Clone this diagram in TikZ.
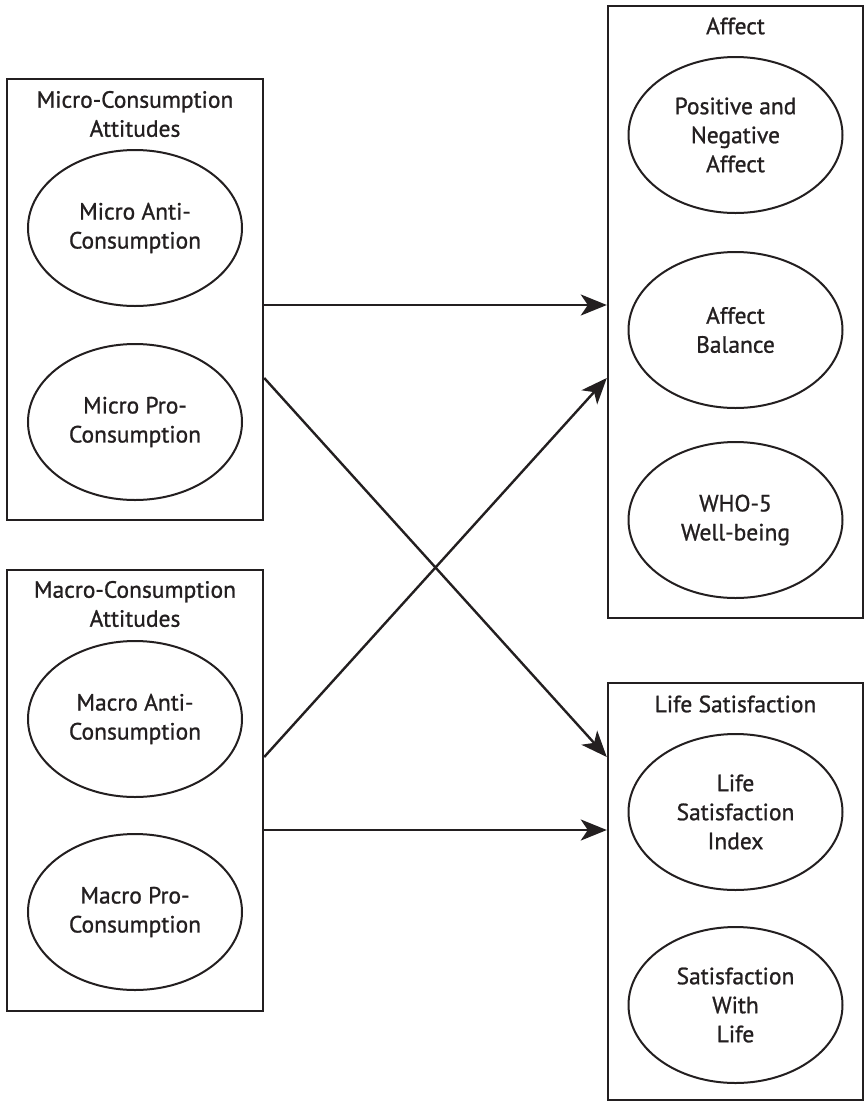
\documentclass[tikz,border=0pt]{standalone}
\usepackage{fontspec}
\setmainfont{PT Sans}[FakeBold=1]
\usetikzlibrary{shapes.geometric,arrows.meta}
\definecolor{ink}{HTML}{231F20}
\begin{document}
\begin{tikzpicture}[x=1pt,y=-1pt,
  every node/.style={text=ink,font=\fontsize{23.5}{29}\selectfont,align=center},
  group/.style={draw=ink,line width=2.4pt,rectangle,minimum width=256pt,inner sep=0pt},
  construct/.style={draw=ink,line width=2pt,ellipse,minimum width=214pt,minimum height=156pt,inner sep=0pt},
  title/.style={inner sep=0pt},
  arr/.style={draw=ink,line width=2.4pt,-{Stealth[length=26pt,width=21pt,inset=7pt]}}]
\useasboundingbox (0,0) rectangle (865,1104);
% group boxes
\node[group,minimum height=441pt] (micro) at (135,299.5) {};
\node[group,minimum height=441pt] (macro) at (135,790.5) {};
\node[group,minimum width=255pt,minimum height=612pt] (affect) at (735.5,312) {};
\node[group,minimum width=255pt,minimum height=417pt] (ls) at (735.5,891.5) {};
% titles
\node[title] (microt) at (135,114) {Micro-Consumption\\Attitudes};
\node[title] (macrot) at (135,604) {Macro-Consumption\\Attitudes};
\node[title] (affectt) at (735.5,26) {Affect};
\node[title] (lst) at (735.5,704) {Life Satisfaction};
% constructs
\node[construct] (mA) at (135,228) {Micro Anti-\\Consumption};
\node[construct] (mP) at (135,422) {Micro Pro-\\Consumption};
\node[construct] (MA) at (135,719) {Macro Anti-\\Consumption};
\node[construct] (MP) at (135,912) {Macro Pro-\\Consumption};
\node[construct] (pn) at (735.5,135) {Positive and\\Negative\\Affect};
\node[construct] (ab) at (735.5,330) {Affect\\Balance};
\node[construct] (who) at (735.5,520) {WHO-5\\Well-being};
\node[construct] (lsi) at (735.5,812) {Life\\Satisfaction\\Index};
\node[construct] (swl) at (735.5,1005) {Satisfaction\\With\\Life};
% paths
\draw[arr] (micro.east |- {0,305}) -- (affect.west |- {0,305});
\draw[arr] (micro.east |- {0,378}) -- (ls.west |- {0,757});
\draw[arr] (macro.east |- {0,757}) -- (affect.west |- {0,378});
\draw[arr] (macro.east |- {0,830}) -- (ls.west |- {0,830});
\end{tikzpicture}
\end{document}
